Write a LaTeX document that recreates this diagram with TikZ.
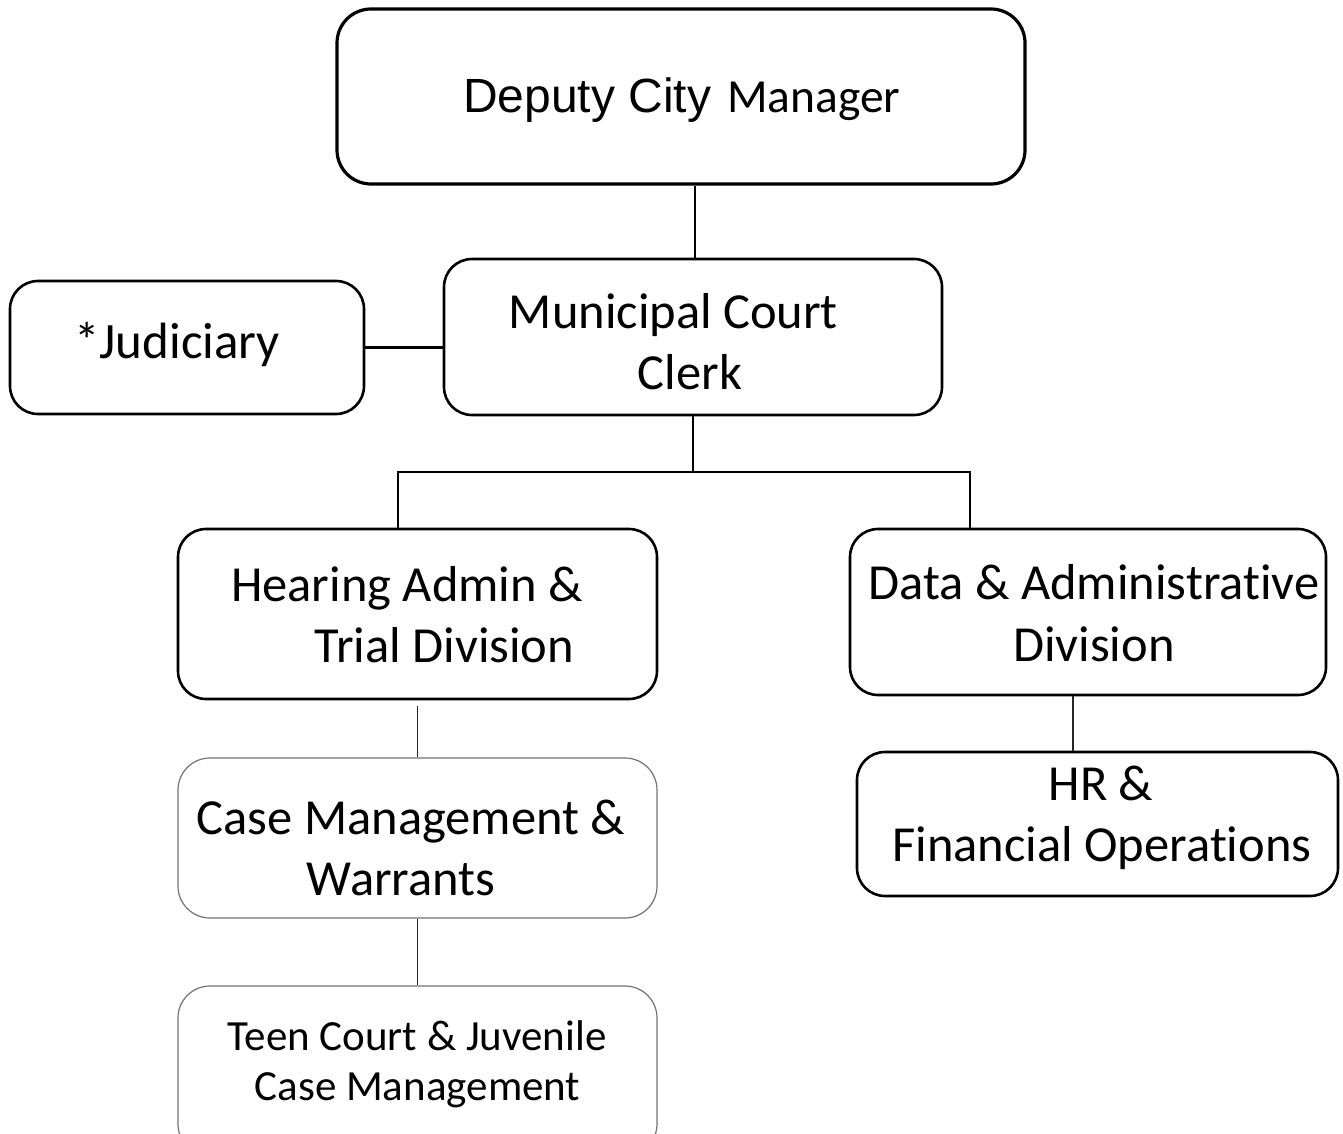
\documentclass[tikz,border=0pt]{standalone}
\usepackage{fontspec}
\setmainfont{Carlito}[Ligatures=NoCommon]
\newfontfamily\arialf{Liberation Sans}
\usetikzlibrary{calc}
\tikzset{
  box/.style={draw=black, line width=2.6pt, rounded corners=28pt, inner sep=0pt, fill=white},
  bigbox/.style={box, line width=3.2pt, rounded corners=34pt},
  softbox/.style={draw=black!55, line width=1.2pt, rounded corners=32pt, inner sep=0pt, fill=white},
  link/.style={draw=black, line width=2.6pt},
  thinlink/.style={draw=black!85, line width=1.3pt},
  txt/.style={anchor=base, inner sep=0pt, font=\fontsize{50.5}{60}\selectfont},
  smalltxt/.style={anchor=base, inner sep=0pt, font=\fontsize{43}{50}\selectfont}
}
\begin{document}
\begin{tikzpicture}[x=1pt, y=-1pt]
\clip (0,0) rectangle (1343,1134);
\fill[white] (0,0) rectangle (1343,1134);

% boxes
\node[bigbox, minimum width=688pt, minimum height=175pt] (dcm) at (681,96.5) {};
\node[box, minimum width=498pt, minimum height=156pt] (mcc) at (693,337) {};
\node[box, minimum width=354pt, minimum height=133pt] (jud) at (187,347.5) {};
\node[box, minimum width=479pt, minimum height=170pt] (had) at (417.5,614) {};
\node[box, minimum width=476pt, minimum height=166pt] (dad) at (1088,612) {};
\node[box, minimum width=481pt, minimum height=144pt] (hrf) at (1097.5,824) {};
\node[softbox, minimum width=479pt, minimum height=160pt] (cmw) at (417.5,838) {};
\node[softbox, minimum width=479pt, minimum height=170pt] (tcj) at (417.5,1071) {};

% connectors
\coordinate (busL) at (398,472);
\coordinate (busR) at (970,472);
\coordinate (busM) at (693,472);
\coordinate (dh) at (1073,0);
\coordinate (dv) at (695,0);
\draw[link] (dv |- mcc.north) -- (dv |- dcm.south);
\draw[link] (jud.east) -- (mcc.west |- jud.east);
\draw[link] (mcc.south) -- (busM);
\draw[link] (busL |- had.north) -- (busL) -- (busR) -- (busR |- dad.north);
\draw[thinlink] ($(had.south)+(0,6)$) -- (cmw.north);
\draw[thinlink] (cmw.south) -- (tcj.north);
\draw[thinlink] (dh |- dad.south) -- (dh |- hrf.north);

% texts
\node[anchor=base west, inner sep=0pt, font=\arialf\fontsize{48}{58}\selectfont] (t1a) at (463,113) {Deputy City};
\node[anchor=base west, inner sep=0pt, font=\fontsize{47.5}{56}\selectfont] (t1b) at (727,113) {Manager};
\node[txt] (t2a) at (673.5,328) {Municipal Court};
\node[txt] (t2b) at (690,389) {Clerk};
\node[txt, font=\fontsize{51}{60}\selectfont] (t3) at (177,358) {*Judiciary};
\node[txt] (t4a) at (407,601) {Hearing Admin \&};
\node[txt] (t4b) at (444.5,662) {Trial Division};
\node[txt] (t5a) at (1094,599) {Data \& Administrative};
\node[txt] (t5b) at (1094,661) {Division};
\node[txt] (t6a) at (411,834) {Case Management \&};
\node[txt] (t6b) at (401,895) {Warrants};
\node[txt] (t7a) at (1101,800) {HR \&};
\node[txt] (t7b) at (1102,861) {Financial Operations};
\node[smalltxt] (t8a) at (417,1050) {Teen Court \& Juvenile};
\node[smalltxt] (t8b) at (417.5,1100) {Case Management};
\end{tikzpicture}
\end{document}
